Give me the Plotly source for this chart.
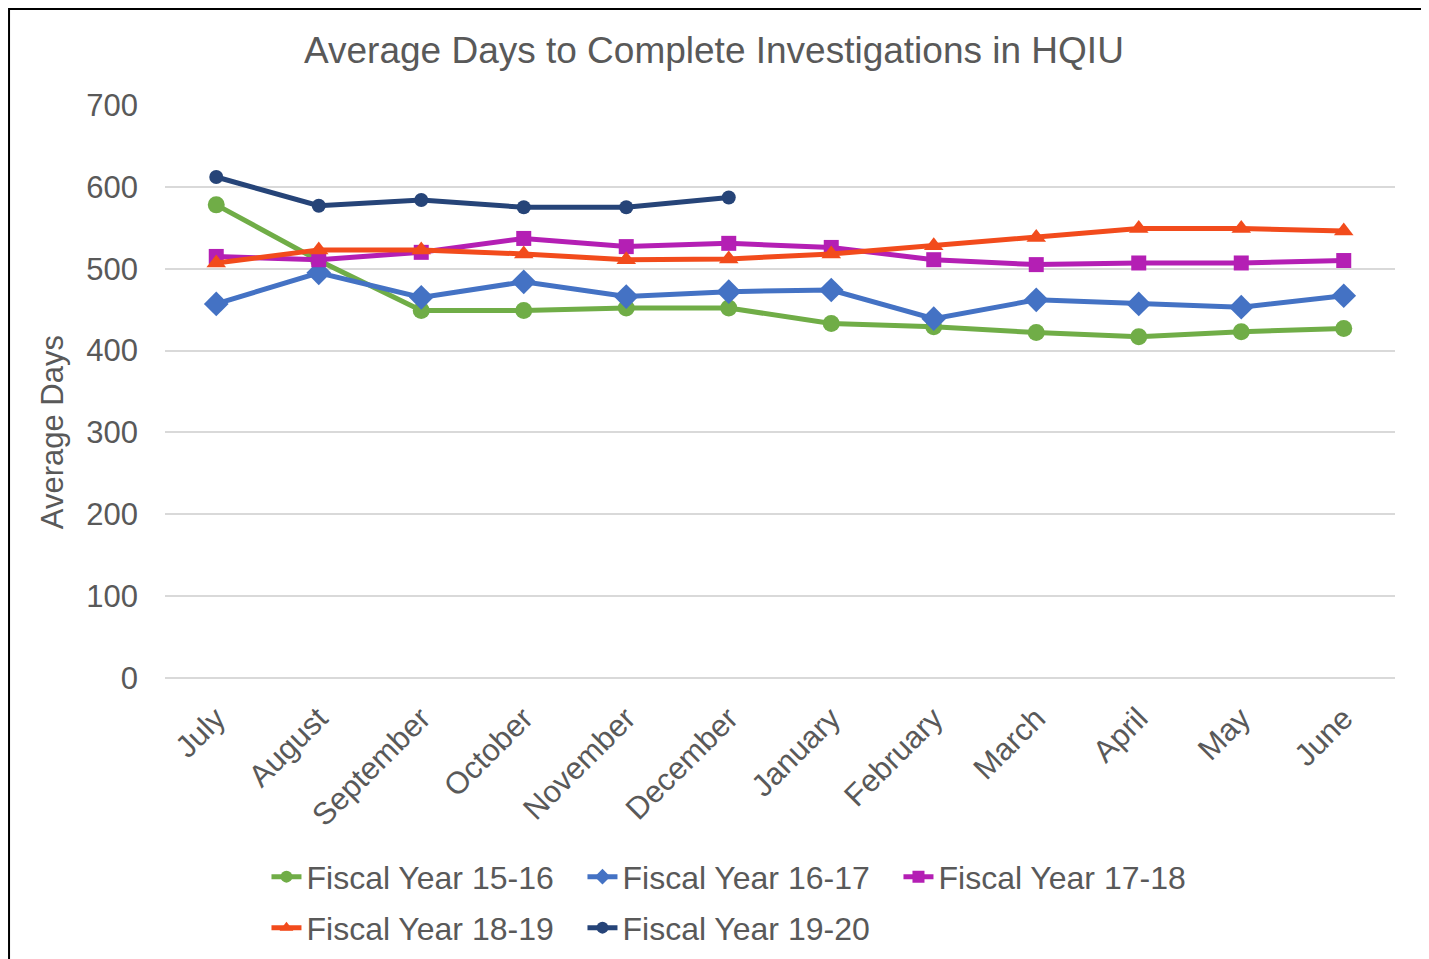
import plotly.graph_objects as go

months = ['July', 'August', 'September', 'October', 'November', 'December',
          'January', 'February', 'March', 'April', 'May', 'June']

fy_15_16 = [578, 510, 449, 449, 452, 452, 433, 429, 422, 417, 423, 427]
fy_16_17 = [457, 495, 465, 484, 466, 472, 474, 439, 462, 457, 453, 467]
fy_17_18 = [515, 511, 520, 537, 527, 531, 526, 511, 505, 507, 507, 510]
fy_18_19 = [507, 523, 523, 518, 511, 512, 518, 528, 538, 549, 549, 546]
fy_19_20 = [612, 577, 584, 575, 575, 587]

# name, values, colour, marker, marker size, legend row
series = [
    ('Fiscal Year 15-16', fy_15_16, '#70AD47', 'circle', 17, 'legend'),
    ('Fiscal Year 16-17', fy_16_17, '#4472C4', 'diamond', 19, 'legend'),
    ('Fiscal Year 17-18', fy_17_18, '#B41FB4', 'square', 15, 'legend'),
    ('Fiscal Year 18-19', fy_18_19, '#F24B1C', 'triangle-up', 17, 'legend2'),
    ('Fiscal Year 19-20', fy_19_20, '#264478', 'circle', 14, 'legend2'),
]

fig = go.Figure()
for name, vals, color, symbol, size, leg in series:
    fig.add_trace(go.Scatter(
        x=months[:len(vals)],
        y=vals,
        mode='lines+markers',
        name=name,
        legend=leg,
        line=dict(color=color, width=5),
        marker=dict(color=color, symbol=symbol, size=size)
    ))

# chart border like the Excel chart area
fig.add_shape(type='rect', xref='paper', yref='paper',
              x0=-0.1268, x1=1.0236, y0=-0.6, y1=1.1675,
              line=dict(color='black', width=2), layer='below')

# y axis title sits a bit below the middle of the axis in the original
fig.add_annotation(text='Average Days', xref='paper', yref='paper',
                   x=-0.0919, y=0.429, textangle=-90, showarrow=False,
                   xanchor='center', yanchor='middle',
                   font=dict(size=31, color='#595959'))

legend_style = dict(
    orientation='h',
    x=0.0825, xanchor='left',
    yanchor='middle',
    entrywidth=271,
    entrywidthmode='pixels',
    font=dict(size=32, color='#595959'),
    itemsizing='constant',
    bgcolor='rgba(0,0,0,0)',
)

fig.update_layout(
    width=1429,
    height=959,
    paper_bgcolor='white',
    plot_bgcolor='white',
    font=dict(family='Liberation Sans, Arial', color='#595959', size=31),
    title=dict(text='Average Days to Complete Investigations in HQIU',
               x=0.494, xanchor='center', y=0.956, yanchor='middle',
               font=dict(size=37, color='#595959')),
    margin=dict(l=157, r=42, t=97, b=289),
    xaxis=dict(
        type='category',
        range=[-0.5, 11.5],
        tickangle=-45,
        showgrid=False,
        showline=False,
        ticks='',
        ticklabelstandoff=15,
        tickfont=dict(size=31, color='#595959'),
    ),
    yaxis=dict(
        range=[0, 700],
        dtick=100,
        showgrid=True,
        gridcolor='#D9D9D9',
        gridwidth=2,
        zeroline=True,
        zerolinecolor='#D9D9D9',
        zerolinewidth=2,
        ticks='',
        ticklabelstandoff=26,
        tickfont=dict(size=31, color='#595959'),
    ),
    legend=dict(legend_style, y=-0.347),
    legend2=dict(legend_style, y=-0.436),
    showlegend=True,
)

fig.write_html("out.html")
